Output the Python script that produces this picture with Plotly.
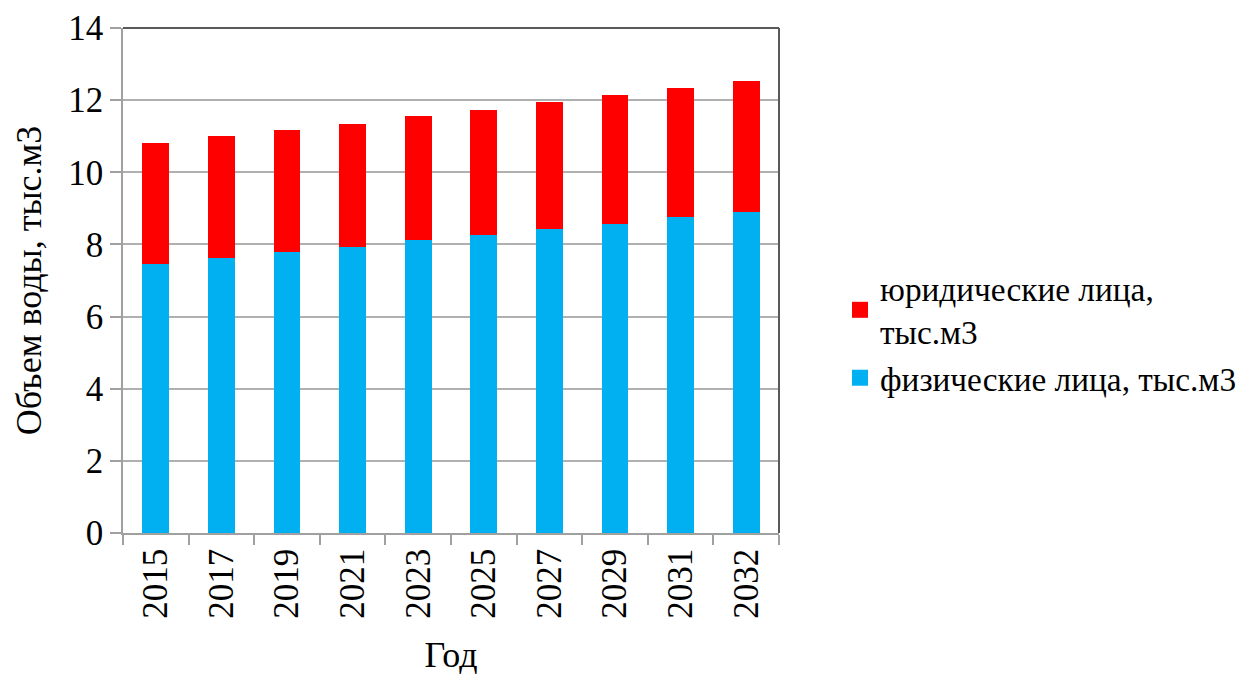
import plotly.graph_objects as go

years = ["2015", "2017", "2019", "2021", "2023", "2025", "2027", "2029", "2031", "2032"]
fiz = [7.47, 7.62, 7.79, 7.93, 8.12, 8.26, 8.43, 8.57, 8.76, 8.89]
yur = [3.33, 3.38, 3.38, 3.42, 3.45, 3.47, 3.52, 3.56, 3.59, 3.63]

name_fiz = "физические лица, тыс.м3"
name_yur = "юридические лица,<br>тыс.м3"
col_fiz = "#00b0f0"
col_yur = "#ff0000"

font_family = "Liberation Serif, Times New Roman, serif"

fig = go.Figure()
fig.add_trace(go.Bar(x=years, y=fiz, name=name_fiz, showlegend=False,
                     marker=dict(color=col_fiz, line=dict(width=0))))
fig.add_trace(go.Bar(x=years, y=yur, name=name_yur, showlegend=False,
                     marker=dict(color=col_yur, line=dict(width=0))))
# legend entries (larger square swatches)
fig.add_trace(go.Scatter(x=[None], y=[None], mode="markers", name=name_fiz,
                         marker=dict(symbol="square", size=16, color=col_fiz)))
fig.add_trace(go.Scatter(x=[None], y=[None], mode="markers", name=name_yur,
                         marker=dict(symbol="square", size=16, color=col_yur)))

fig.update_layout(
    barmode="stack",
    bargap=0.59,
    width=1239, height=667,
    margin=dict(l=115, r=468, t=20, b=142, autoexpand=False),
    paper_bgcolor="white", plot_bgcolor="white",
    font=dict(family=font_family, size=32, color="black"),
    legend=dict(x=1.093, y=0.396, xanchor="left", yanchor="middle",
                traceorder="reversed", font=dict(size=33.3, family=font_family),
                itemwidth=30, tracegroupgap=0),
    shapes=[
        dict(type="line", xref="paper", yref="paper", x0=0, x1=1, y0=1, y1=1,
             line=dict(color="#595959", width=2)),
        dict(type="line", xref="paper", yref="paper", x0=1, x1=1, y0=0, y1=1,
             line=dict(color="#595959", width=2)),
    ],
)
fig.update_xaxes(
    title=dict(text="Год", font=dict(size=36), standoff=28),
    tickangle=-90, ticks="outside", tickson="boundaries", ticklen=10,
    tickcolor="#a0a0a0", tickwidth=1.5, showline=True, linecolor="#a0a0a0", linewidth=1.5,
    tickfont=dict(size=35), automargin=False,
)
fig.update_yaxes(
    title=dict(text="Объем воды, тыс.м3", font=dict(size=36), standoff=16),
    range=[0, 14], dtick=2, ticks="outside", ticklen=11, tickcolor="#a0a0a0", tickwidth=1.5,
    showline=True, linecolor="#a0a0a0", linewidth=1.5,
    showgrid=True, gridcolor="#b0b0b0", gridwidth=1.5, zeroline=False,
    tickfont=dict(size=35), automargin=False,
)

fig.write_html("out.html")
